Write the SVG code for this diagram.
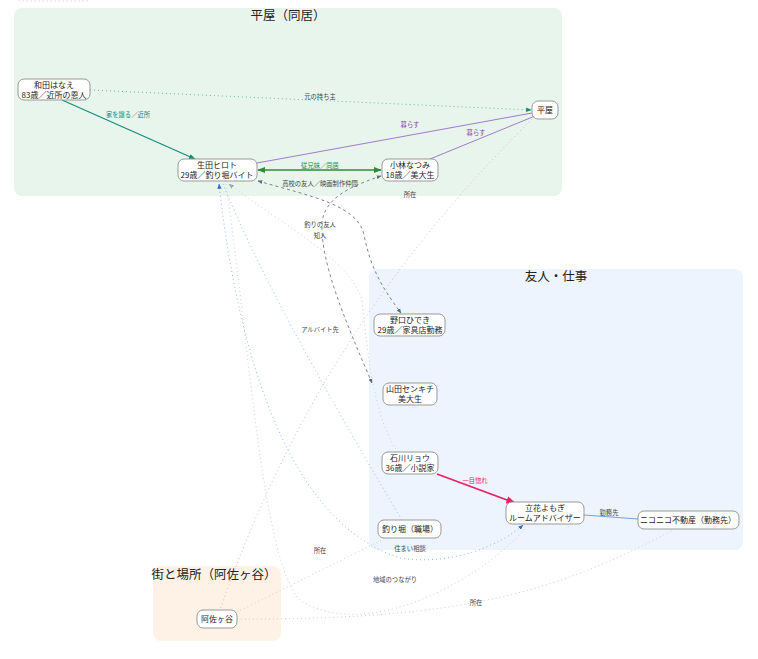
<svg xmlns="http://www.w3.org/2000/svg" width="758" height="659" viewBox="0 0 758 659">
<defs>
<style>
text{font-family:"Noto Sans CJK JP","Noto Sans",sans-serif;text-anchor:middle}
.node rect{fill:#fff;stroke:#999;stroke-width:1}
.node text{font-size:8px;fill:#222}
.title{font-size:12.5px;fill:#222}
.lbl{font-size:6.3px;fill:#444}
.e{fill:none}
</style>
<marker id="aTeal" viewBox="0 0 10 10" refX="9" refY="5" markerWidth="6" markerHeight="6" orient="auto-start-reverse"><path d="M0,1 L10,5 L0,9 z" fill="#15897b"/></marker>
<marker id="aGreen" viewBox="0 0 10 10" refX="9" refY="5" markerWidth="6" markerHeight="6" orient="auto-start-reverse"><path d="M0,1 L10,5 L0,9 z" fill="#2e8b3a"/></marker>
<marker id="aGray" viewBox="0 0 10 10" refX="9" refY="5" markerWidth="6" markerHeight="6" orient="auto-start-reverse"><path d="M0,1 L10,5 L0,9 z" fill="#5a6a78"/></marker>
<marker id="aLight" viewBox="0 0 10 10" refX="9" refY="5" markerWidth="6" markerHeight="6" orient="auto-start-reverse"><path d="M0,1 L10,5 L0,9 z" fill="#9aa"/></marker>
<marker id="aBlue" viewBox="0 0 10 10" refX="9" refY="5" markerWidth="6" markerHeight="6" orient="auto-start-reverse"><path d="M0,1 L10,5 L0,9 z" fill="#2f6fc4"/></marker>
<marker id="aPink" viewBox="0 0 10 10" refX="9" refY="5" markerWidth="6" markerHeight="6" orient="auto-start-reverse"><path d="M0,1 L10,5 L0,9 z" fill="#e91e63"/></marker>
</defs>
<rect x="0" y="0" width="758" height="659" fill="#fff"/>
<rect x="17" y="-20" width="73" height="21" rx="4" fill="none" stroke="#ddd" stroke-dasharray="2,2"/>

<g id="groups">
<g id="grp-hiraya"><rect x="14" y="8" width="548" height="188" rx="8" fill="#e8f5ec"/><text class="title" x="288" y="20">平屋（同居）</text></g>
<g id="grp-friends"><rect x="369" y="269" width="374" height="281" rx="8" fill="#eef4fd"/><text class="title" x="556" y="281">友人・仕事</text></g>
<g id="grp-town"><rect x="153" y="566" width="128" height="75" rx="8" fill="#fdf2e5"/><text class="title" x="214" y="579">街と場所（阿佐ヶ谷）</text></g>
</g>

<g id="edges">
<path class="e" d="M90,90 L531,110" stroke="#4fb3a6" stroke-width="0.9" stroke-dasharray="1,3" marker-end="url(#aTeal)"/>
<path class="e" d="M62,100 L195,159" stroke="#15897b" stroke-width="1.1" marker-end="url(#aTeal)"/>
<path class="e" d="M257,163 L532,113" stroke="#9b6cc4" stroke-width="0.9"/>
<path class="e" d="M430,159 L535,116" stroke="#9b6cc4" stroke-width="0.9"/>
<path class="e" d="M258,170 L381,170" stroke="#2e8b3a" stroke-width="1.3" marker-start="url(#aGreen)" marker-end="url(#aGreen)"/>
<path class="e" d="M258,181 C310,196 358,205 364,235 C372,275 388,295 401,313" stroke="#5a6a78" stroke-width="0.8" stroke-dasharray="3,3" marker-start="url(#aGray)" marker-end="url(#aGray)"/>
<path class="e" d="M381,176 C345,188 325,200 322,222 C320,262 345,320 372,383" stroke="#5a6a78" stroke-width="0.8" stroke-dasharray="3,3" marker-start="url(#aGray)" marker-end="url(#aGray)"/>
<path class="e" d="M532,119 C420,230 300,380 220,610" stroke="#c8b8b8" stroke-width="0.9" stroke-dasharray="1,3"/>
<path class="e" d="M229,184 C290,230 350,260 362,300 C368,360 375,420 398,452" stroke="#c8c8c8" stroke-width="0.9" stroke-dasharray="1,3" marker-start="url(#aLight)"/>
<path class="e" d="M223,184 Q270,300 402,520" stroke="#7fb0e6" stroke-width="0.9" stroke-dasharray="1,3"/>
<path class="e" d="M219,184 C235,330 280,520 400,558 C450,566 500,546 523,525" stroke="#7fb0e6" stroke-width="0.9" stroke-dasharray="1,3" marker-start="url(#aBlue)" marker-end="url(#aBlue)"/>
<path class="e" d="M226,184 C250,350 262,560 300,600 C360,640 470,590 527,527" stroke="#c8c8c8" stroke-width="0.9" stroke-dasharray="1,3"/>
<path class="e" d="M388,537 L237,612" stroke="#c8c8c8" stroke-width="0.9" stroke-dasharray="1,3"/>
<path class="e" d="M675,529 C560,590 470,620 237,619" stroke="#c8c8c8" stroke-width="0.9" stroke-dasharray="1,3"/>
<path class="e" d="M437,474 L515,503" stroke="#e91e63" stroke-width="1.6" marker-end="url(#aPink)"/>
<path class="e" d="M584,515 L638,519" stroke="#6fa3dc" stroke-width="1"/>

<text class="lbl" x="320" y="99">元の持ち主</text>
<text class="lbl" x="128" y="117" style="fill:#15897b">家を譲る／近所</text>
<text class="lbl" x="410" y="127" style="fill:#8e44ad">暮らす</text>
<text class="lbl" x="476" y="135" style="fill:#8e44ad">暮らす</text>
<text class="lbl" x="320" y="168" style="fill:#2e8b3a">従兄妹／同居</text>
<text class="lbl" x="320" y="186">高校の友人／映画制作仲間</text>
<text class="lbl" x="410" y="197">所在</text>
<text class="lbl" x="320" y="227">釣りの友人</text>
<text class="lbl" x="320" y="238">知人</text>
<text class="lbl" x="320" y="332">アルバイト先</text>
<text class="lbl" x="475" y="483" style="fill:#e91e63">一目惚れ</text>
<text class="lbl" x="609" y="515">勤務先</text>
<text class="lbl" x="410" y="551">住まい相談</text>
<text class="lbl" x="320" y="553">所在</text>
<text class="lbl" x="395" y="582">地域のつながり</text>
<text class="lbl" x="476" y="605">所在</text>
</g>

<g id="n-wada" class="node"><rect x="18" y="79" width="72" height="21" rx="6"/><text x="54" y="87.5">和田はなえ</text><text x="54" y="97.5">83歳／近所の恩人</text></g>
<g id="n-ikuta" class="node"><rect x="178" y="159" width="79" height="22" rx="6"/><text x="217" y="168">生田ヒロト</text><text x="217" y="178">29歳／釣り堀バイト</text></g>
<g id="n-kobayashi" class="node"><rect x="382" y="159" width="56" height="22" rx="6"/><text x="410" y="168">小林なつみ</text><text x="410" y="178">18歳／美大生</text></g>
<g id="n-hiraya" class="node"><rect x="532" y="101" width="26" height="18" rx="6"/><text x="545" y="113">平屋</text></g>
<g id="n-noguchi" class="node"><rect x="374" y="314" width="71" height="22" rx="6"/><text x="410" y="323">野口ひでき</text><text x="410" y="333">29歳／家具店勤務</text></g>
<g id="n-yamada" class="node"><rect x="383" y="383" width="54" height="22" rx="6"/><text x="410" y="392">山田センキチ</text><text x="410" y="402">美大生</text></g>
<g id="n-ishikawa" class="node"><rect x="382" y="452" width="56" height="22" rx="6"/><text x="410" y="461">石川リョウ</text><text x="410" y="471">36歳／小説家</text></g>
<g id="n-tachibana" class="node"><rect x="506" y="502" width="78" height="22" rx="6"/><text x="545" y="511">立花よもぎ</text><text x="545" y="521">ルームアドバイザー</text></g>
<g id="n-nikoniko" class="node"><rect x="638" y="511" width="101" height="18" rx="6"/><text x="688" y="523">ニコニコ不動産（勤務先）</text></g>
<g id="n-tsuribori" class="node"><rect x="378" y="520" width="63" height="18" rx="6"/><text x="410" y="532">釣り堀（職場）</text></g>
<g id="n-asagaya" class="node"><rect x="197" y="610" width="40" height="18" rx="6"/><text x="217" y="622">阿佐ヶ谷</text></g>
</svg>
